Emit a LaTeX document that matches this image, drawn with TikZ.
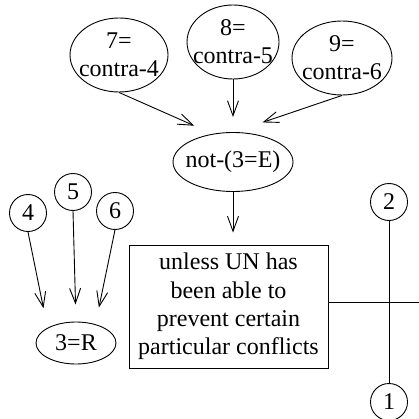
\documentclass[tikz,border=0pt]{standalone}
\usepackage{fontspec}
\setmainfont{Liberation Serif}
\usetikzlibrary{arrows.meta,shapes.geometric}
\begin{document}
\begin{tikzpicture}[x=1pt,y=-1pt,
  every node/.style={font=\fontsize{24}{28}\selectfont},
  ell/.style={draw,ellipse,inner sep=0pt,line width=0.9pt},
  circ/.style={draw,circle,inner sep=0pt,minimum size=37pt,line width=0.9pt},
  lbl/.style={align=center,inner sep=0pt},
  arr/.style={-{Straight Barb[length=15pt,width=11pt]},line width=0.9pt},
  ln/.style={line width=0.9pt}]
\useasboundingbox[fill=white] (0,0) rectangle (419,419);
% top ellipses
\node[ell,minimum width=98pt,minimum height=74pt] (e7) at (119,55) {};
\node[lbl] (t7) at (e7) {7=\\contra-4};
\node[ell,minimum width=92pt,minimum height=74pt] (e8) at (233,42) {};
\node[lbl] (t8) at (e8) {8=\\contra-5};
\node[ell,minimum width=100pt,minimum height=74pt] (e9) at (342,58) {};
\node[lbl] (t9) at (e9) {9=\\contra-6};
\node[ell,minimum width=120pt,minimum height=59pt] (ne) at (233,162) {};
\node[lbl] (tne) at (ne) {not-(3=E)};
% box
\node[draw,rectangle,line width=0.9pt,minimum width=199pt,minimum height=123pt,align=center,inner sep=0pt,font=\fontsize{24}{28.3}\selectfont] (box) at (228.5,306.5) {unless UN has\\been able to\\prevent certain\\particular conflicts};
% 3=R
\node[ell,minimum width=80pt,minimum height=42pt] (r) at (76,343) {};
\node[lbl] (tr) at (r) {3=R};
% circles
\node[circ] (c4) at (28,213) {4};
\node[circ] (c5) at (73,192) {5};
\node[circ] (c6) at (115,211) {6};
\node[circ] (c2) at (389,202) {2};
\node[circ] (c1) at (389,402) {1};
% arrows
\draw[arr,shorten >=20pt] (e7.south) -- (ne.126);
\draw[arr,shorten >=15pt] (e8.south) -- (ne.north);
\draw[arr,shorten >=30pt] (e9.south) -- (ne.88);
\draw[arr,shorten >=12pt] (ne.south) -- (ne.south |- box.north);
\draw[arr,shorten >=20pt] (c4.south) -- (r.152);
\draw[arr,shorten >=17pt] (c5.south) -- (r.north);
\draw[arr,shorten >=17pt] (c6.south) -- (r.44);
% lines
\coordinate (edge) at (419,302);
\draw[ln] (box.east |- edge) -- (edge);
\draw[ln] (c2) -- (c1);
\end{tikzpicture}
\end{document}
